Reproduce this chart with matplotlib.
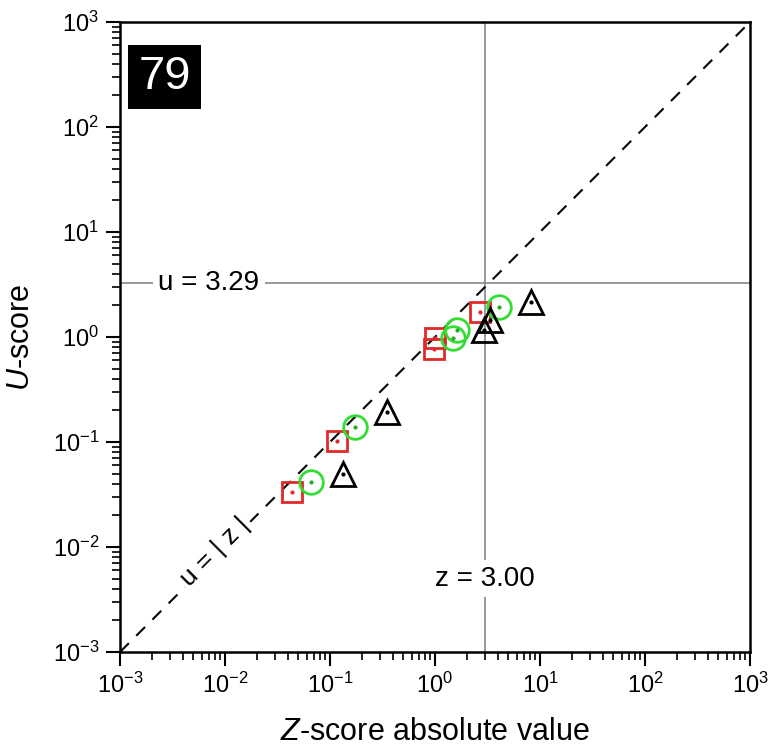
import numpy as np
import matplotlib.pyplot as plt
from matplotlib.ticker import LogLocator, NullFormatter

plt.rcParams["font.family"] = ["Liberation Sans", "DejaVu Sans"]
plt.rcParams["mathtext.fontset"] = "custom"
plt.rcParams["mathtext.rm"] = "Liberation Sans"
plt.rcParams["mathtext.it"] = "Liberation Sans:italic"

# =============================================================================
# Data (|z|, u) for the three series

sq_z = [0.0438, 0.116, 0.977, 1.00, 2.68]
sq_u = [0.0336, 0.103, 0.769, 0.97, 1.74]

ci_z = [0.0664, 0.174, 1.47, 1.63, 4.07]
ci_u = [0.0413, 0.138, 0.97, 1.17, 1.94]

tr_z = [0.132, 0.347, 2.95, 3.34, 8.15]
tr_u = [0.0496, 0.194, 1.17, 1.45, 2.17]

Z_CRIT = 3.00
U_CRIT = 3.29
PANEL = "79"

# =============================================================================
# Plot

fg = plt.figure(figsize=(7.71, 7.55), dpi=100)
ax = fg.add_axes([120 / 771, 103 / 755, 630 / 771, 630 / 755])

lims = (1e-3, 1e3)
ax.set_xscale("log")
ax.set_yscale("log")
ax.set_xlim(*lims)
ax.set_ylim(*lims)

# reference lines
ax.axvline(Z_CRIT, color="#888888", lw=1.2, zorder=1)
ax.axhline(U_CRIT, color="#888888", lw=1.2, zorder=1)
ax.plot(lims, lims, "k", ls=(0, (6, 5)), lw=1.5, zorder=2)

# markers
RED, GREEN = "#e02a2a", "#33dd33"
ax.plot(sq_z, sq_u, ls="none", marker="s", ms=15, mfc="none", mec=RED, mew=2, zorder=3)
ax.plot(ci_z, ci_u, ls="none", marker="o", ms=17, mfc="none", mec=GREEN, mew=2, zorder=3)
ax.plot(tr_z, tr_u, ls="none", marker="^", ms=17, mfc="none", mec="k", mew=2, zorder=3)
for zs, us, c in [(sq_z, sq_u, RED), (ci_z, ci_u, "#22aa22"), (tr_z, tr_u, "k")]:
    ax.plot(zs, us, ls="none", marker="o", ms=2, mfc=c, mec=c, zorder=4)

# annotations
ax.text(7.0e-3, U_CRIT, "u = 3.29", fontsize=20, ha="center", va="center",
        bbox=dict(fc="white", ec="none", pad=4), zorder=2)
ax.text(Z_CRIT, 5.0e-3, "z = 3.00", fontsize=20, ha="center", va="center",
        bbox=dict(fc="white", ec="none", pad=4), zorder=2)
ax.text(8.0e-3, 9.0e-3, "u = | z |", fontsize=19, ha="center", va="center",
        rotation=45, bbox=dict(fc="white", ec="none", pad=2), zorder=2)
ax.text(2.65e-3, 3.0e2, PANEL, fontsize=34, color="white", ha="center", va="center",
        bbox=dict(fc="black", ec="none", pad=7), zorder=5)

ax.set_xlabel(r"$\it{Z}$-score absolute value", fontsize=22, labelpad=14)
ax.set_ylabel(r"$\it{U}$-score", fontsize=22, labelpad=12)

for axis in (ax.xaxis, ax.yaxis):
    axis.set_major_locator(LogLocator(base=10, numticks=10))
    axis.set_minor_locator(LogLocator(base=10, subs=np.arange(2, 10), numticks=10))
    axis.set_minor_formatter(NullFormatter())

ax.tick_params(axis="both", which="major", labelsize=17, direction="out",
               length=10, width=1.5, top=False, right=False, pad=5)
ax.tick_params(axis="both", which="minor", direction="out", length=6, width=1.2,
               top=False, right=False)
for sp in ax.spines.values():
    sp.set_linewidth(1.8)

fg.savefig("out.png", dpi=100)
